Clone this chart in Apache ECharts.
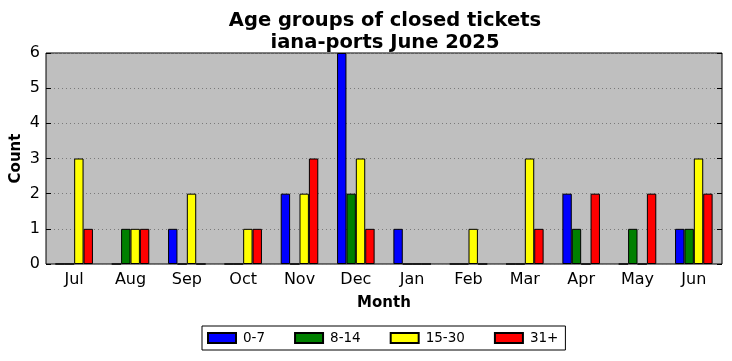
<!DOCTYPE html>
<html><head><meta charset="utf-8">
<script src="https://cdn.jsdelivr.net/npm/echarts@6/dist/echarts.min.js"></script>
<style>html,body{margin:0;padding:0;background:#fff}#c{width:732px;height:361px}</style>
</head><body><div id="c"></div>
<script>
const months = ['Jul','Aug','Sep','Oct','Nov','Dec','Jan','Feb','Mar','Apr','May','Jun'];
const age0_7   = [0,0,1,0,2,6,1,0,0,2,0,1];
const age8_14  = [0,1,0,0,0,2,0,0,0,1,1,1];
const age15_30 = [3,1,2,1,2,3,0,1,3,0,0,3];
const age31p   = [1,1,0,1,3,1,0,0,1,2,2,2];
const yTicks = [0,1,2,3,4,5,6];

const F = 'DejaVu Sans';
const chart = echarts.init(document.getElementById('c'), null, {renderer:'canvas'});
function s(name, data, color){
  return {name, type:'bar', data, barWidth:'16.67%', barGap:'0%',
    itemStyle:{color, borderColor:'#000', borderWidth:1}, xAxisIndex:0, yAxisIndex:0,
    emphasis:{disabled:true}};
}
chart.setOption({
  animation:false,
  textStyle:{fontFamily:F},
  title:{text:'Age groups of closed tickets\niana-ports June 2025', left:380, textAlign:'center', top:5,
    textStyle:{fontFamily:F, fontSize:19.5, fontWeight:'bold', color:'#000', lineHeight:22}},
  grid:{left:46, right:10, top:53, bottom:97, containLabel:false, outerBoundsMode:'none', show:true, backgroundColor:'#bfbfbf', borderColor:'#000', borderWidth:1},
  legend:{top:326, left:202, icon:'rect', itemWidth:28, itemHeight:10, itemGap:29, padding:[5,7,5,5],
    borderColor:'#000', borderWidth:1, borderRadius:0,
    textStyle:{fontFamily:F, fontSize:13.5, color:'#000', padding:[0,0,0,2]}},
  xAxis:[{type:'category', data:months, position:'bottom', name:'Month', nameLocation:'middle', nameGap:32,
    nameTextStyle:{fontFamily:F, fontSize:15, fontWeight:'bold', color:'#000'},
    axisLine:{show:false}, axisTick:{alignWithLabel:true, inside:true, length:5, lineStyle:{color:'#000'}},
    axisLabel:{fontFamily:F, fontSize:16, color:'#000', margin:8}, splitLine:{show:false}},
    {type:'category', data:months, position:'top', axisLine:{show:false},
    axisTick:{alignWithLabel:true, inside:true, length:5, lineStyle:{color:'#000'}}, axisLabel:{show:false}}],
  yAxis:[{type:'value', min:0, max:6, interval:1, name:'Count', nameLocation:'middle', nameGap:22, nameMoveOverlap:false,
    nameTextStyle:{fontFamily:F, fontSize:15, fontWeight:'bold', color:'#000'},
    axisLine:{show:false}, axisTick:{show:true, inside:true, length:5, lineStyle:{color:'#000'}},
    axisLabel:{fontFamily:F, fontSize:16, color:'#000', margin:6, formatter:v=>yTicks.includes(v)?String(v):''},
    splitLine:{show:true, lineStyle:{color:'#7a7a7a', type:[1,3], width:1}}},
    {type:'value', min:0, max:6, interval:1, position:'right', axisLine:{show:false},
    axisTick:{show:true, inside:true, length:5, lineStyle:{color:'#000'}}, axisLabel:{show:false}, splitLine:{show:false}}],
  series:[s('0-7',age0_7,'#0000ff'), s('8-14',age8_14,'#008000'), s('15-30',age15_30,'#ffff00'), s('31+',age31p,'#ff0000')]
});
</script></body></html>
